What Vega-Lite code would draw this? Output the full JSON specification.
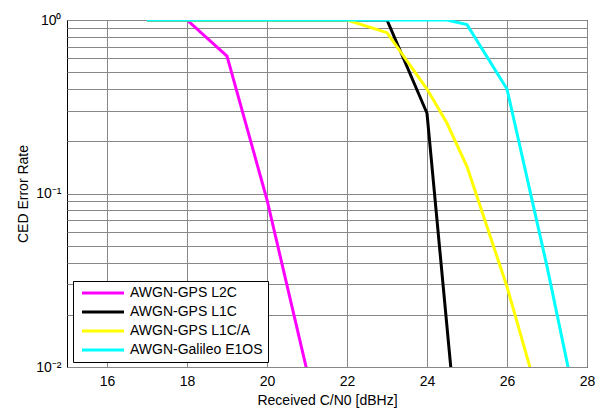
{
  "$schema": "https://vega.github.io/schema/vega-lite/v6.json",
  "width": 520,
  "height": 347,
  "autosize": {"type": "none"},
  "padding": {"left": 67, "top": 20, "right": 18, "bottom": 41},
  "background": "white",
  "config": {
    "view": {"stroke": "#000000", "strokeWidth": 1},
    "font": "Liberation Sans"
  },
  "data": {
    "values": [
      {"series": "AWGN-GPS L2C", "cn0": 17, "rate": 1},
      {"series": "AWGN-GPS L2C", "cn0": 18, "rate": 1},
      {"series": "AWGN-GPS L2C", "cn0": 19, "rate": 0.62},
      {"series": "AWGN-GPS L2C", "cn0": 20, "rate": 0.092},
      {"series": "AWGN-GPS L2C", "cn0": 21, "rate": 0.0095},
      {"series": "AWGN-GPS L1C", "cn0": 17, "rate": 1},
      {"series": "AWGN-GPS L1C", "cn0": 23, "rate": 1},
      {"series": "AWGN-GPS L1C", "cn0": 24, "rate": 0.29},
      {"series": "AWGN-GPS L1C", "cn0": 25, "rate": 0.001},
      {"series": "AWGN-GPS L1C/A", "cn0": 17, "rate": 1},
      {"series": "AWGN-GPS L1C/A", "cn0": 22, "rate": 1},
      {"series": "AWGN-GPS L1C/A", "cn0": 23, "rate": 0.845},
      {"series": "AWGN-GPS L1C/A", "cn0": 24, "rate": 0.4},
      {"series": "AWGN-GPS L1C/A", "cn0": 24.5, "rate": 0.254},
      {"series": "AWGN-GPS L1C/A", "cn0": 25, "rate": 0.143},
      {"series": "AWGN-GPS L1C/A", "cn0": 26, "rate": 0.029},
      {"series": "AWGN-GPS L1C/A", "cn0": 27, "rate": 0.0045},
      {"series": "AWGN-Galileo E1OS", "cn0": 17, "rate": 1},
      {"series": "AWGN-Galileo E1OS", "cn0": 24.5, "rate": 1},
      {"series": "AWGN-Galileo E1OS", "cn0": 25, "rate": 0.94},
      {"series": "AWGN-Galileo E1OS", "cn0": 26, "rate": 0.4},
      {"series": "AWGN-Galileo E1OS", "cn0": 27, "rate": 0.038},
      {"series": "AWGN-Galileo E1OS", "cn0": 28, "rate": 0.003}
    ]
  },
  "mark": {"type": "line", "strokeWidth": 3, "clip": true},
  "encoding": {
    "x": {
      "field": "cn0",
      "type": "quantitative",
      "scale": {"domain": [15, 28], "nice": false, "zero": false},
      "axis": {
        "title": "Received C/N0 [dBHz]",
        "values": [16, 18, 20, 22, 24, 26, 28],
        "domain": false,
        "ticks": false,
        "labelPadding": 7,
        "labelFontSize": 14,
        "labelColor": "#000000",
        "labelFlush": false,
        "grid": true,
        "gridColor": "#888888",
        "gridWidth": 1,
        "titleFontSize": 14,
        "titleFontWeight": "normal",
        "titleColor": "#000000",
        "titleX": 260,
        "titleY": 37,
        "titleBaseline": "alphabetic",
        "titleAlign": "center"
      }
    },
    "y": {
      "field": "rate",
      "type": "quantitative",
      "scale": {"type": "log", "domain": [0.01, 1], "nice": false},
      "axis": {
        "title": "CED Error Rate",
        "values": [0.01, 0.02, 0.03, 0.04, 0.05, 0.06, 0.07, 0.08, 0.09, 0.1, 0.2, 0.3, 0.4, 0.5, 0.6, 0.7, 0.8, 0.9, 1],
        "labelExpr": "datum.value == 1 ? '10⁰' : (abs(datum.value - 0.1) < 1e-9 ? '10⁻¹' : (abs(datum.value - 0.01) < 1e-9 ? '10⁻²' : ''))",
        "labelOverlap": false,
        "labelFlush": false,
        "domain": false,
        "ticks": false,
        "labelPadding": 6,
        "labelFontSize": 14,
        "labelColor": "#000000",
        "grid": true,
        "gridColor": "#888888",
        "gridWidth": 1,
        "titleFontSize": 14,
        "titleFontWeight": "normal",
        "titleColor": "#000000",
        "titleAngle": -90,
        "titleX": -40,
        "titleY": 173.5,
        "titleBaseline": "alphabetic",
        "titleAlign": "center"
      }
    },
    "color": {
      "field": "series",
      "type": "nominal",
      "scale": {
        "domain": ["AWGN-GPS L2C", "AWGN-GPS L1C", "AWGN-GPS L1C/A", "AWGN-Galileo E1OS"],
        "range": ["#ff00ff", "#000000", "#ffff00", "#00ffff"]
      },
      "legend": {
        "title": null,
        "orient": "none",
        "legendX": 6,
        "legendY": 261,
        "padding": 5,
        "strokeColor": "#000000",
        "fillColor": "#ffffff",
        "cornerRadius": 0,
        "symbolType": "M-6,0H6",
        "symbolSize": 49,
        "symbolStrokeWidth": 3,
        "symbolOffset": 18,
        "labelFontSize": 14,
        "labelColor": "#000000",
        "labelOffset": 20,
        "rowPadding": 5,
        "labelLimit": 300
      }
    },
    "order": {"field": "cn0", "type": "quantitative"}
  }
}
